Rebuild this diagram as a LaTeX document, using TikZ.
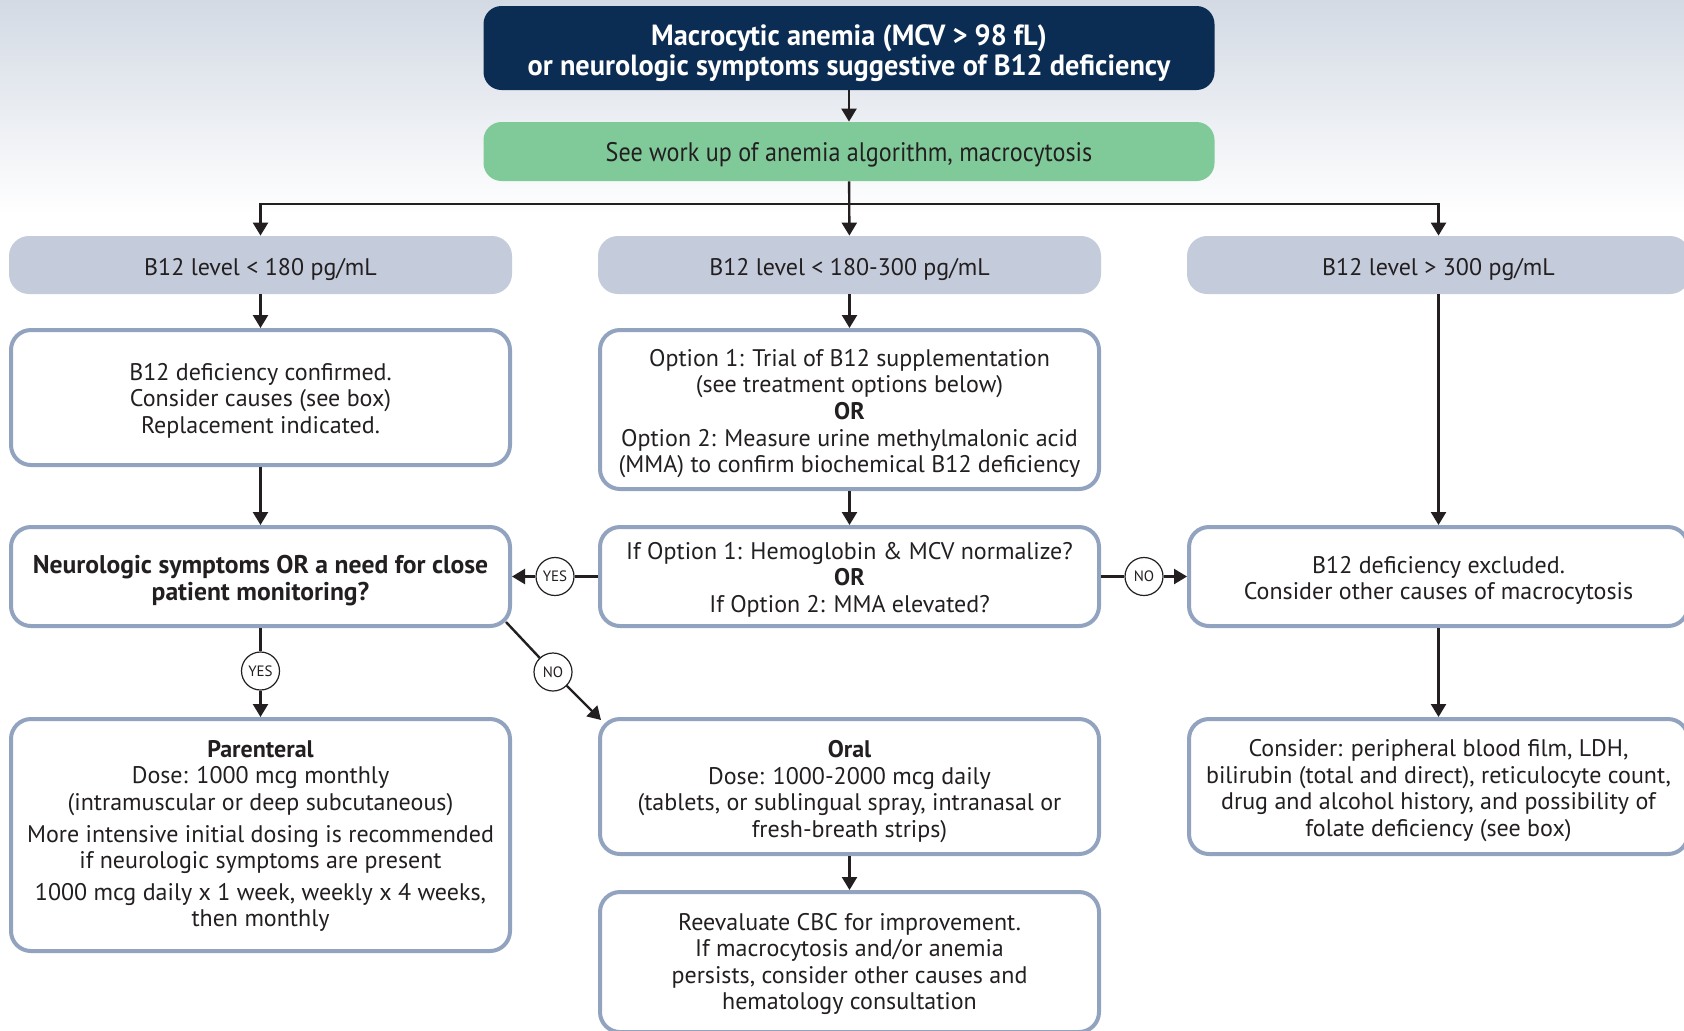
\documentclass[tikz,border=0pt]{standalone}
\usepackage{fontspec}
\setmainfont{PT Sans}
\newfontfamily\condfont[FakeStretch=0.9]{PT Sans}
\newfontfamily\headfont[FakeStretch=0.97]{PT Sans}
\usetikzlibrary{arrows.meta,calc}
\newbox\dropbox
\definecolor{ink}{RGB}{35,31,32}
\definecolor{navy}{RGB}{12,45,83}
\definecolor{mint}{RGB}{128,202,154}
\definecolor{lvl}{RGB}{196,203,219}
\definecolor{frame}{RGB}{145,163,191}
\definecolor{bgtop}{RGB}{211,218,228}
\begin{document}
\begin{tikzpicture}[
  x=0.5pt,y=-0.5pt,
  font=\fontsize{12}{13.3}\selectfont,
  drop/.code={\def\dropamt{#1}},
  drop/.default=4pt,
  shifted/.style={execute at begin node={\setbox\dropbox=\hbox\bgroup},
    execute at end node={\egroup\ht\dropbox=\dimexpr\ht\dropbox+\dropamt\relax\box\dropbox}},
  head/.style={fill=navy,rounded corners=9pt,minimum width=365.5pt,minimum height=42pt,
    text=white,align=center,shifted,drop=5pt,font=\headfont\bfseries\fontsize{14.6}{15}\selectfont},
  workup/.style={fill=mint,rounded corners=9pt,minimum width=365.5pt,minimum height=29.5pt,
    text=ink,shifted,drop=3pt,font=\condfont\fontsize{13.4}{14}\selectfont},
  level/.style={fill=lvl,rounded corners=10pt,minimum width=251.5pt,minimum height=29pt,
    text=ink,shifted,drop},
  box/.style={draw=frame,line width=2pt,rounded corners=10pt,fill=white,align=center,
    text=ink,minimum width=249.5pt,inner sep=2pt,shifted,drop},
  arr/.style={draw=ink,line width=1.2pt,-{Triangle[length=6.5pt,width=7.5pt]}},
  link/.style={draw=ink,line width=1.2pt},
  tag/.style={circle,draw=ink,line width=0.6pt,fill=white,minimum size=19pt,inner sep=0pt,
    text=ink,font=\fontsize{7.5}{8}\selectfont}]
  \useasboundingbox (0,0) rectangle (1684,1030);
  \clip (0,0) rectangle (1684,1030);
  \fill[white] (0,0) rectangle (1684,1030);
  \shade[top color=bgtop,bottom color=white] (0,0) rectangle (1684,215);

  % top of the chart
  \node[head] (start) at (849,48)
    {Macrocytic anemia (MCV > 98 fL)\\or neurologic symptoms suggestive of B12 deficiency};
  \node[workup] (workup) at (849,151.5) {See work up of anemia algorithm, macrocytosis};
  \coordinate (split) at (849,204);

  % B12 levels
  \node[level] (lvlL) at (260.5,265) {B12 level < 180 pg/mL};
  \node[level] (lvlM) at (849.5,265) {B12 level < 180-300 pg/mL};
  \node[level] (lvlR) at (1438.5,265) {B12 level > 300 pg/mL};

  \node[box,minimum height=67.5pt,drop=3.2pt] (confL) at (260.5,397.5)
    {B12 deficiency confirmed.\\Consider causes (see box)\\Replacement indicated.};
  \node[box,minimum height=79.5pt] (optM) at (849.5,409.5)
    {Option 1: Trial of B12 supplementation\\(see treatment options below)\\\textbf{OR}\\
     Option 2: Measure urine methylmalonic acid\\(MMA) to confirm biochemical B12 deficiency};

  \node[box,minimum height=49.5pt,font=\bfseries\fontsize{12.8}{13.3}\selectfont] (neuroL) at (260.5,576.5)
    {Neurologic symptoms OR a need for close\\patient monitoring?};
  \node[box,minimum height=49.5pt,drop=3.2pt] (checkM) at (849.5,576.5)
    {If Option 1: Hemoglobin \& MCV normalize?\\\textbf{OR}\\If Option 2: MMA elevated?};
  \node[box,minimum height=49.5pt] (exclR) at (1438.5,576.5)
    {B12 deficiency excluded.\\Consider other causes of macrocytosis};

  % treatment
  \node[box,minimum height=116pt,drop=1pt] (parenL) at (260.5,835)
    {\textbf{Parenteral}\\Dose: 1000 mcg monthly\\(intramuscular or deep subcutaneous)\\[2.5pt]
     More intensive initial dosing is recommended\\if neurologic symptoms are present\\[2.5pt]
     1000 mcg daily x 1 week, weekly x 4 weeks,\\then monthly};
  \node[box,minimum height=67.5pt,drop=5pt] (oralM) at (849.5,786.5)
    {\textbf{Oral}\\Dose: 1000-2000 mcg daily\\(tablets, or sublingual spray, intranasal or\\fresh-breath strips)};
  \node[box,minimum height=67.5pt] (considerR) at (1438.5,786.5)
    {Consider: peripheral blood film, LDH,\\bilirubin (total and direct), reticulocyte count,\\
     drug and alcohol history, and possibility of\\folate deficiency (see box)};
  \node[box,minimum height=70pt,drop=2pt] (reevalM) at (849.5,962)
    {Reevaluate CBC for improvement.\\If macrocytosis and/or anemia\\persists, consider other causes and\\hematology consultation};

  % yes / no
  \node[tag] (yesA) at (555,576.5) {YES};
  \node[tag] (noA) at (1144,576.5) {NO};
  \node[tag] (yesB) at (260.5,671) {YES};
  \node[tag] (noB) at (553,672) {NO};

  \draw[arr] (start) -- (workup);
  \draw[arr] (workup) -- (lvlM);
  \draw[arr] (split) -| (lvlL);
  \draw[arr] (split) -| (lvlR);
  \draw[arr] (lvlL) -- (confL);
  \draw[arr] (lvlM) -- (optM);
  \draw[arr] (lvlR) -- (exclR);
  \draw[arr] (confL) -- (neuroL);
  \draw[arr] (optM) -- (checkM);
  \draw[link] (checkM) -- (yesA);
  \draw[arr] (yesA) -- (neuroL);
  \draw[link] (checkM) -- (noA);
  \draw[arr] (noA) -- (exclR);
  \draw[link] (neuroL) -- (yesB);
  \draw[arr] (yesB) -- (parenL);
  \draw[link] ($(neuroL.south east)+(-6,-6)$) -- (noB);
  \draw[arr] (noB) -- ($(oralM.north west)+(3,3)$);
  \draw[arr] (oralM) -- (reevalM);
  \draw[arr] (exclR) -- (considerR);
\end{tikzpicture}
\end{document}
